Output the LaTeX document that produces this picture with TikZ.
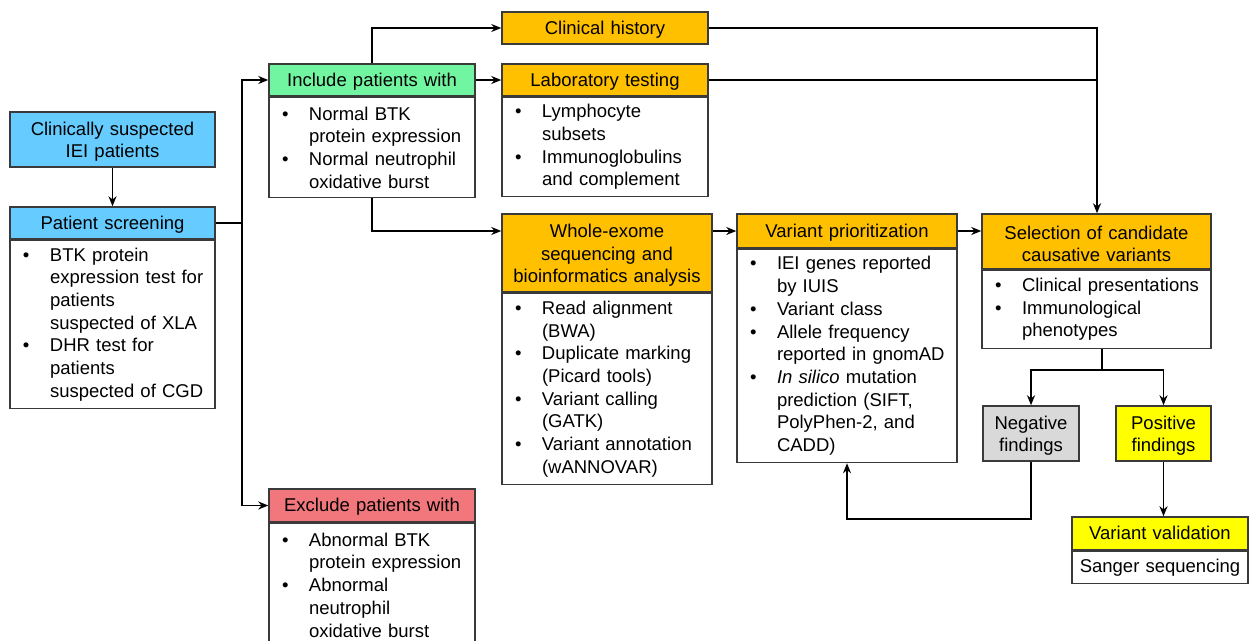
\documentclass[tikz,border=0pt]{standalone}
\usepackage{fontspec}
\setmainfont{Liberation Sans}
\usetikzlibrary{arrows.meta,calc}
\definecolor{cblue}{HTML}{66CCFF}
\definecolor{cgreen}{HTML}{72F5A0}
\definecolor{cred}{HTML}{F2777C}
\definecolor{corange}{HTML}{FFC000}
\definecolor{cgray}{HTML}{D9D9D9}
\definecolor{cyellow}{HTML}{FFFF00}
\definecolor{bordc}{HTML}{3A3A3A}
\newcommand{\bi}{\hspace*{13pt}\makebox[27pt][l]{\textbullet}}
\newcommand{\ind}{\hspace*{40pt}}
\tikzset{
  base/.style={draw=bordc, line width=1.5pt, font=\fontsize{18.5}{22.7}\selectfont, inner sep=0pt},
  hdr/.style={base, align=center, execute at begin node={\rule[-5.5pt]{0pt}{23.5pt}}},
  body/.style={base, fill=white, align=left, anchor=north, inner ysep=4pt},
  arr/.style={line width=1.8pt, draw=black, -{Stealth[length=10pt,width=8pt]}},
  ln/.style={line width=1.8pt, draw=black},
}
\begin{document}
\begin{tikzpicture}[x=1pt,y=-1pt]
\useasboundingbox (0,0) rectangle (1249,640);
% left column
\node[hdr, fill=cblue, text width=205, minimum height=55] (clin) at (112.5,139.5) {Clinically suspected\\IEI patients};
\node[hdr, fill=cblue, text width=205, minimum height=32] (screenH) at (112.5,223) {Patient screening};
\node[body, text width=205, minimum height=168] (screenB) at (screenH.south) {\bi BTK protein\\\ind expression test for\\\ind patients\\\ind suspected of XLA\\\bi DHR test for\\\ind patients\\\ind suspected of CGD};
% include / exclude
\node[hdr, fill=cgreen, text width=206, minimum height=32] (incH) at (372,80) {Include patients with};
\node[body, text width=206, minimum height=100] (incB) at (incH.south) {\bi Normal BTK\\\ind protein expression\\\bi Normal neutrophil\\\ind oxidative burst};
\node[hdr, fill=cred, text width=206, minimum height=33] (exH) at (372,505.5) {Exclude patients with};
\node[body, text width=206, minimum height=123] (exB) at (exH.south) {\bi Abnormal BTK\\\ind protein expression\\\bi Abnormal\\\ind neutrophil\\\ind oxidative burst};
% clinical history / lab
\node[hdr, fill=corange, text width=206, minimum height=32] (chist) at (605,28) {Clinical history};
\node[hdr, fill=corange, text width=206, minimum height=32] (labH) at (605,80) {Laboratory testing};
\node[body, text width=206, minimum height=99] (labB) at (labH.south) {\bi Lymphocyte\\\ind subsets\\\bi Immunoglobulins\\\ind and complement};
% WES
\node[hdr, fill=corange, text width=210, minimum height=78] (wesH) at (607,253) {Whole-exome\\sequencing and\\bioinformatics analysis};
\node[body, text width=210, minimum height=191] (wesB) at (wesH.south) {\bi Read alignment\\\ind (BWA)\\\bi Duplicate marking\\\ind (Picard tools)\\\bi Variant calling\\\ind (GATK)\\\bi Variant annotation\\\ind (wANNOVAR)};
% VP
\node[hdr, fill=corange, text width=220, minimum height=34] (vpH) at (847,231) {Variant prioritization};
\node[body, text width=220, minimum height=213] (vpB) at (vpH.south) {\bi IEI genes reported\\\ind by IUIS\\\bi Variant class\\\bi Allele frequency\\\ind reported in gnomAD\\\bi \textit{In silico} mutation\\\ind prediction (SIFT,\\\ind PolyPhen-2, and\\\ind CADD)};
% selection
\node[hdr, fill=corange, text width=229, minimum height=55] (selH) at (1096.5,241.5) {Selection of candidate\\causative variants};
\node[body, text width=229, minimum height=78] (selB) at (selH.south) {\bi Clinical presentations\\\bi Immunological\\\ind phenotypes};
% findings
\node[hdr, fill=cgray, text width=96, minimum height=55] (neg) at (1031,433.5) {Negative\\findings};
\node[hdr, fill=cyellow, text width=95, minimum height=55] (pos) at (1163.5,433.5) {Positive\\findings};
\node[hdr, fill=cyellow, text width=176, minimum height=33] (valH) at (1160,533.5) {Variant validation};
\node[body, align=center, text width=176, minimum height=32] (valB) at (valH.south) {Sanger sequencing};
% connectors
\coordinate (sx) at (242,0);
\coordinate (jx) at (1097,0);
\draw[arr] (clin.south) -- (screenH.north);
\draw[ln] (screenH.east) -- (sx |- screenH.east);
\draw[arr] (sx |- screenH.east) |- (incH.west);
\draw[arr] (sx |- screenH.east) |- (exH.west);
\draw[arr] (incH.north) |- (chist.west);
\draw[arr] (incH.east) -- (labH.west);
\draw[arr] (incB.south) |- (wesH.west |- vpH.west);
\draw[arr] (wesH.east |- vpH.west) -- (vpH.west);
\draw[arr] (vpH.east) -- (selH.west |- vpH.east);
\draw[arr] (chist.east) -| (jx |- selH.north);
\draw[ln] (labH.east) -- (jx |- labH.east);
\draw[ln] ([xshift=5.5pt]selB.south) -- ++(0,21) coordinate (fork);
\draw[arr] (fork) -| (neg.north);
\draw[arr] (fork) -| (pos.north);
\draw[arr] (neg.south) -- ++(0,57) -| (vpB.south);
\draw[arr] (pos.south) -- (pos.south |- valH.north);
\end{tikzpicture}
\end{document}
